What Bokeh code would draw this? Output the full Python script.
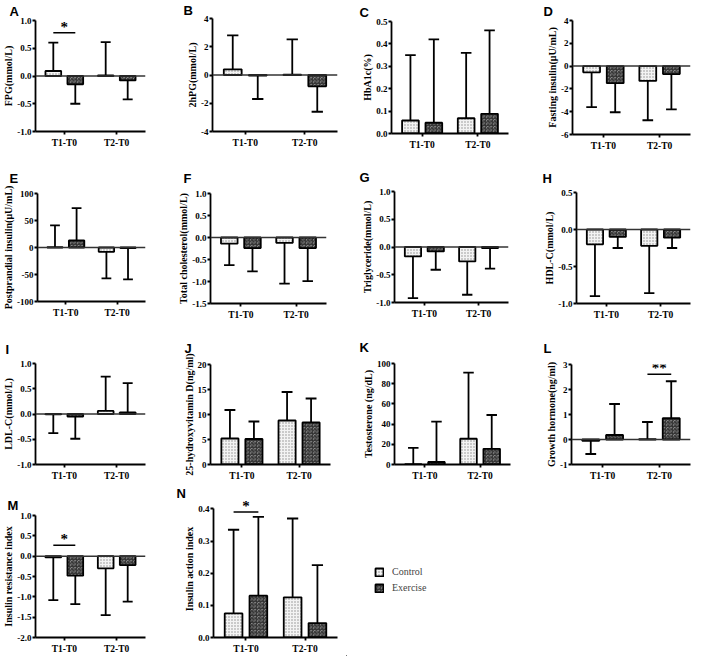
from bokeh.plotting import figure
from bokeh.models import (Range1d, FixedTicker, PrintfTickFormatter, Span,
                          Legend, LegendItem, ColumnDataSource)
from bokeh.layouts import column, row
from bokeh.embed import file_html
from bokeh.resources import INLINE
from bokeh.core.properties import value

groups = ["T1-T0", "T2-T0"]
series = ["Control", "Exercise"]

# ---- data (mean change, SD drawn away from zero) ----
A_ctrl = [0.09, 0.01];   A_ctrl_sd = [0.51, 0.60]
A_exer = [-0.15, -0.08]; A_exer_sd = [0.35, 0.34]
A_ticks = [-1.0, -0.5, 0.0, 0.5, 1.0]

B_ctrl = [0.40, 0.02];   B_ctrl_sd = [2.40, 2.50]
B_exer = [-0.05, -0.80]; B_exer_sd = [1.65, 1.80]
B_ticks = [-4, -2, 0, 2, 4]

C_ctrl = [0.058, 0.068]; C_ctrl_sd = [0.292, 0.292]
C_exer = [0.048, 0.088]; C_exer_sd = [0.372, 0.372]
C_ticks = [0.0, 0.1, 0.2, 0.3, 0.4, 0.5]

D_ctrl = [-0.55, -1.30]; D_ctrl_sd = [3.05, 3.45]
D_exer = [-1.50, -0.70]; D_exer_sd = [2.55, 3.10]
D_ticks = [-6, -4, -2, 0, 2, 4]

E_ctrl = [0.5, -8.0];    E_ctrl_sd = [40.5, 49.0]
E_exer = [13.0, -1.0];   E_exer_sd = [60.0, 58.0]
E_ticks = [-100, -50, 0, 50, 100]

F_ctrl = [-0.14, -0.12]; F_ctrl_sd = [0.49, 0.93]
F_exer = [-0.24, -0.24]; F_exer_sd = [0.53, 0.75]
F_ticks = [-1.5, -1.0, -0.5, 0.0, 0.5, 1.0]

G_ctrl = [-0.17, -0.26]; G_ctrl_sd = [0.75, 0.60]
G_exer = [-0.08, -0.02]; G_exer_sd = [0.33, 0.37]
G_ticks = [-1.0, -0.5, 0.0, 0.5, 1.0]

H_ctrl = [-0.20, -0.22]; H_ctrl_sd = [0.70, 0.64]
H_exer = [-0.10, -0.11]; H_exer_sd = [0.15, 0.14]
H_ticks = [-1.0, -0.5, 0.0, 0.5]

I_ctrl = [-0.005, 0.06]; I_ctrl_sd = [0.375, 0.68]
I_exer = [-0.05, 0.03];  I_exer_sd = [0.44, 0.58]
I_ticks = [-1.0, -0.5, 0.0, 0.5, 1.0]

J_ctrl = [5.2, 8.8];     J_ctrl_sd = [5.7, 5.7]
J_exer = [5.1, 8.4];     J_exer_sd = [3.5, 4.8]
J_ticks = [0, 5, 10, 15, 20]

K_ctrl = [0.3, 25.5];    K_ctrl_sd = [16.2, 65.5]
K_exer = [2.5, 15.5];    K_exer_sd = [40.0, 33.5]
K_ticks = [0, 20, 40, 60, 80, 100]

L_ctrl = [-0.05, 0.01];  L_ctrl_sd = [0.53, 0.69]
L_exer = [0.18, 0.85];   L_exer_sd = [1.24, 1.48]
L_ticks = [-1, 0, 1, 2, 3]

M_ctrl = [-0.03, -0.30]; M_ctrl_sd = [1.05, 1.15]
M_exer = [-0.48, -0.22]; M_exer_sd = [0.70, 0.90]
M_ticks = [-2.0, -1.5, -1.0, -0.5, 0.0, 0.5, 1.0]

N_ctrl = [0.075, 0.125]; N_ctrl_sd = [0.26, 0.245]
N_exer = [0.13, 0.045];  N_exer_sd = [0.245, 0.18]
N_ticks = [0.0, 0.1, 0.2, 0.3, 0.4]

# significance marks
sig_panel = ["A", "L", "M", "N"]
sig_group = [1, 2, 1, 1]
sig_y = [0.78, 2.61, 0.27, 0.39]
sig_text = ["*", "**", "*", "*"]

PANELS = [
    ("A", "FPG(mmol/L)", A_ctrl, A_ctrl_sd, A_exer, A_exer_sd, A_ticks, "%.1f"),
    ("B", "2hPG(mmol/L)", B_ctrl, B_ctrl_sd, B_exer, B_exer_sd, B_ticks, "%d"),
    ("C", "HbA1c(%)", C_ctrl, C_ctrl_sd, C_exer, C_exer_sd, C_ticks, "%.1f"),
    ("D", "Fasting insulin(μU/mL)", D_ctrl, D_ctrl_sd, D_exer, D_exer_sd, D_ticks, "%d"),
    ("E", "Postprandial insulin(μU/mL)", E_ctrl, E_ctrl_sd, E_exer, E_exer_sd, E_ticks, "%d"),
    ("F", "Total cholesterol(mmol/L)", F_ctrl, F_ctrl_sd, F_exer, F_exer_sd, F_ticks, "%.1f"),
    ("G", "Triglyceride(mmol/L)", G_ctrl, G_ctrl_sd, G_exer, G_exer_sd, G_ticks, "%.1f"),
    ("H", "HDL-C(mmol/L)", H_ctrl, H_ctrl_sd, H_exer, H_exer_sd, H_ticks, "%.1f"),
    ("I", "LDL-C(mmol/L)", I_ctrl, I_ctrl_sd, I_exer, I_exer_sd, I_ticks, "%.1f"),
    ("J", "25-hydroxyvitamin D(ng/ml)", J_ctrl, J_ctrl_sd, J_exer, J_exer_sd, J_ticks, "%d"),
    ("K", "Testosterone (ng/dL)", K_ctrl, K_ctrl_sd, K_exer, K_exer_sd, K_ticks, "%d"),
    ("L", "Growth hormone(ng/ml)", L_ctrl, L_ctrl_sd, L_exer, L_exer_sd, L_ticks, "%d"),
    ("M", "Insulin resistance index", M_ctrl, M_ctrl_sd, M_exer, M_exer_sd, M_ticks, "%.1f"),
    ("N", "Insulin action index", N_ctrl, N_ctrl_sd, N_exer, N_exer_sd, N_ticks, "%.1f"),
]

# ---- layout / style ----
COL_W = 173
ROW_H = [161, 161, 161, 173]
# letter: (min_border_left, min_border_right, min_border_top, min_border_bottom, letter_dx, letter_dy)
LAYOUT = {
    "A": (30, 28, 18, 30, -26, 3),  "B": (39, 9, 15, 30, -29, 1),
    "C": (45, 11, 18, 28, -32, 4),  "D": (53, 2, 18, 27, -29, 3),
    "E": (30, 28, 28, 21, -28, 15), "F": (37, 20, 28, 19, -27, 15),
    "G": (48, 11, 28, 20, -35, 13), "H": (57, 2, 28, 19, -34, 14),
    "I": (32, 28, 41, 9, -30, 14),  "J": (37, 16, 42, 3, -26, 17),
    "K": (48, 9, 41, 7, -35, 17),   "L": (52, 2, 42, 2, -28, 18),
    "M": (32, 28, 32, 9, -28, 6),   "N": (40, 9, 5, 9, -37, 0),
}
# headroom above the top tick (only where a star must sit above it)
HEADROOM = {"N": 0.026}
OFF = 0.21
BAR_W = 0.30
CAP = 0.095
LW = 1.8
SERIF = "Liberation Serif"
CTRL_STYLE = dict(fill_color="#f3f3f3", hatch_pattern="dot", hatch_color="#8c8c8c",
                  hatch_scale=3, hatch_weight=1)
EXER_STYLE = dict(fill_color="#b4b4b4", hatch_pattern="criss_cross", hatch_color="#2e2e2e",
                  hatch_scale=3.5, hatch_weight=1)


def ends(means, sds):
    return [m + (s if m > 0 else -s) for m, s in zip(means, sds)]


def make_panel(spec, width, height):
    letter, ylabel, ctrl, ctrl_sd, exer, exer_sd, ticks, fmt = spec
    mbl, mbr, mbt, mbb, ldx, ldy = LAYOUT[letter]
    ymin, ymax = min(ticks), max(ticks)
    top = ymax + HEADROOM.get(letter, 0)
    p = figure(width=width, height=height, output_backend="svg", toolbar_location=None,
               x_range=Range1d(0.45, 2.55), y_range=Range1d(ymin, top),
               min_border_left=mbl, min_border_right=mbr, min_border_top=mbt,
               min_border_bottom=mbb)
    p.outline_line_color = None
    p.xgrid.visible = False
    p.ygrid.visible = False
    p.background_fill_color = "white"
    p.border_fill_color = "white"

    p.title.text = letter
    p.title.align = "left"
    p.title.offset = ldx
    p.title.standoff = ldy
    p.title.text_font = "Liberation Sans"
    p.title.text_font_style = "bold"
    p.title.text_font_size = "13px"
    p.title.text_color = "black"
    p.title.text_line_height = 1.0

    gx = [1, 2]
    for means, sds, sign, style in ((ctrl, ctrl_sd, -1, CTRL_STYLE), (exer, exer_sd, 1, EXER_STYLE)):
        xs = [g + sign * OFF for g in gx]
        e = ends(means, sds)
        src = ColumnDataSource(dict(x=xs, top=means, end=e,
                                    xl=[x - CAP for x in xs], xr=[x + CAP for x in xs]))
        p.segment(x0="x", y0="top", x1="x", y1="end", source=src, line_color="black",
                  line_width=LW)
        p.segment(x0="xl", y0="end", x1="xr", y1="end", source=src, line_color="black",
                  line_width=LW)
        p.vbar(x="x", top="top", bottom=0, width=BAR_W, source=src,
               line_color="black", line_width=LW, **style)

    if ymin < 0:
        p.add_layout(Span(location=0, dimension="width", line_color="#333333", line_width=1.5))

    # significance
    for sp, sg, sy, st in zip(sig_panel, sig_group, sig_y, sig_text):
        if sp == letter:
            p.segment(x0=[sg - OFF], y0=[sy], x1=[sg + OFF], y1=[sy], line_color="black",
                      line_width=1.5)
            p.text(x=[sg], y=[sy], text=[st], text_align="center", text_baseline="bottom",
                   text_font=value(SERIF), text_font_style="bold", text_font_size="15px",
                   y_offset=2, text_color="black")

    # axes
    p.xaxis.ticker = FixedTicker(ticks=gx, minor_ticks=[])
    p.xaxis.major_label_overrides = {1: groups[0], 2: groups[1]}
    p.yaxis.ticker = FixedTicker(ticks=ticks, minor_ticks=[])
    p.yaxis.formatter = PrintfTickFormatter(format=fmt)
    p.yaxis.bounds = (ymin, ymax)
    p.yaxis.axis_label = ylabel
    for ax in (p.xaxis[0], p.yaxis[0]):
        ax.axis_line_width = LW
        ax.axis_line_color = "black"
        ax.major_tick_line_width = LW
        ax.major_tick_line_color = "black"
        ax.major_tick_out = 3
        ax.major_tick_in = 0
        ax.minor_tick_out = 0
        ax.minor_tick_in = 0
        ax.major_label_standoff = 1
        ax.major_label_text_font = SERIF
        ax.major_label_text_font_style = "bold"
        ax.major_label_text_font_size = "9px"
        ax.major_label_text_color = "black"
    p.xaxis.major_label_text_font_size = "9.5px"
    p.xaxis.major_label_standoff = 3
    p.yaxis.axis_label_text_font = SERIF
    p.yaxis.axis_label_text_font_style = "bold"
    p.yaxis.axis_label_text_font_size = "10px"
    p.yaxis.axis_label_standoff = 0
    p.yaxis.axis_label_text_color = "black"
    return p


figs = {}
for i, spec in enumerate(PANELS):
    figs[spec[0]] = make_panel(spec, COL_W, ROW_H[i // 4])

# legend panel: same N series drawn outside its visible range, only legend shows
lp = figure(width=COL_W, height=ROW_H[3], output_backend="svg", toolbar_location=None,
            x_range=Range1d(10, 11), y_range=Range1d(10, 11),
            x_axis_type=None, y_axis_type=None,
            min_border=0, outline_line_color=None)
lp.grid.visible = False
lp.background_fill_color = "white"
lp.border_fill_color = "white"
rc = lp.vbar(x=[1, 2], top=N_ctrl, bottom=0, width=BAR_W, line_color="black",
             line_width=LW, **CTRL_STYLE)
re_ = lp.vbar(x=[1, 2], top=N_exer, bottom=0, width=BAR_W, line_color="black",
              line_width=LW, **EXER_STYLE)
leg = Legend(items=[LegendItem(label=series[0], renderers=[rc]),
                    LegendItem(label=series[1], renderers=[re_])],
             location=(28, 63), orientation="vertical",
             label_text_font=SERIF, label_text_font_size="10px",
             glyph_width=10, glyph_height=10, spacing=5, padding=0, margin=0,
             label_standoff=8, border_line_color=None, background_fill_alpha=0)
lp.add_layout(leg, "center")


def box(item):
    # each panel in its own column so neighbouring frames are not aligned
    return column(item)


layout = column(
    row(box(figs["A"]), box(figs["B"]), box(figs["C"]), box(figs["D"])),
    row(box(figs["E"]), box(figs["F"]), box(figs["G"]), box(figs["H"])),
    row(box(figs["I"]), box(figs["J"]), box(figs["K"]), box(figs["L"])),
    row(box(figs["M"]), box(figs["N"]), box(lp)),
)

open("out.html", "w").write(file_html(layout, INLINE))
